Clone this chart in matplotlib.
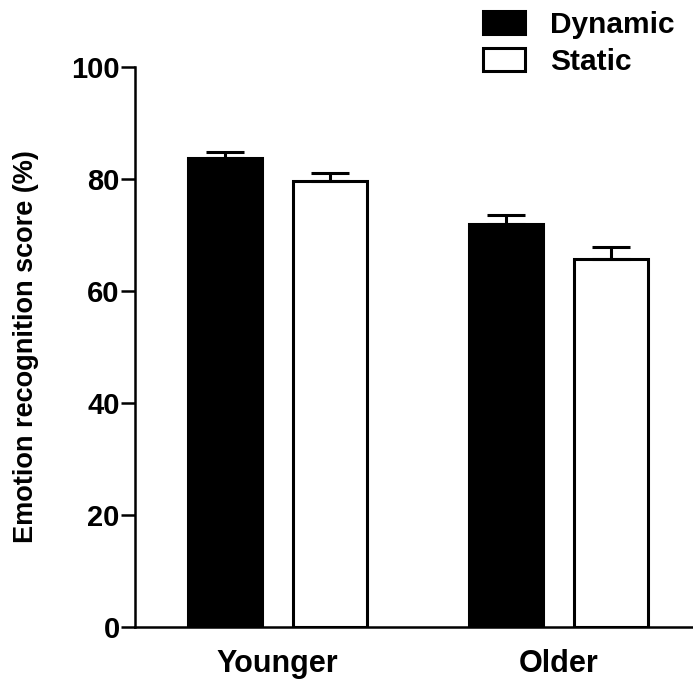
import matplotlib
matplotlib.use('Agg')
from matplotlib import pyplot
import numpy

groups = ['Younger', 'Older']
series = ['Dynamic', 'Static']
dynamic = [83.7, 71.9]
dynamic_err = [1.1, 1.7]
static = [79.7, 65.8]
static_err = [1.4, 2.1]
yticks = [0, 20, 40, 60, 80, 100]

pyplot.rcParams['font.family'] = ['Liberation Sans', 'DejaVu Sans']
pyplot.rcParams['font.weight'] = 'bold'

fig = pyplot.figure(figsize=(6.93, 6.88), dpi=100)
ax = fig.add_axes([135 / 693, 1 - 627 / 688, 1 - 135 / 693, (627 - 67) / 688])

x = numpy.arange(len(groups))
w = 0.263
off = 0.187
lw = 2.2
ax.bar(x - off, dynamic, w, color='black', edgecolor='black', linewidth=lw,
       yerr=[[0] * len(dynamic), dynamic_err], capsize=13.5,
       error_kw=dict(elinewidth=lw, capthick=lw, ecolor='black'),
       label=series[0], zorder=2)
ax.bar(x + off, static, w, color='white', edgecolor='black', linewidth=lw,
       yerr=[[0] * len(static), static_err], capsize=13.5,
       error_kw=dict(elinewidth=lw, capthick=lw, ecolor='black'),
       label=series[1], zorder=2)

ax.set_xlim(-0.507, 1.479)
ax.set_ylim(0, 100)
ax.set_yticks(yticks)
ax.set_xticks(x)
ax.set_xticklabels(groups, fontsize=22, fontweight='bold')
ax.tick_params(axis='x', length=0, pad=16)
ax.tick_params(axis='y', length=10, width=1.8, labelsize=21, pad=1)
for lab in ax.get_yticklabels():
    lab.set_fontweight('bold')
ax.spines['top'].set_visible(False)
ax.spines['right'].set_visible(False)
ax.spines['left'].set_linewidth(1.8)
ax.spines['bottom'].set_linewidth(1.8)
ax.set_ylabel('Emotion recognition score (%)', fontsize=19.5, fontweight='bold', labelpad=23)

leg = fig.legend(loc='upper left', bbox_to_anchor=(483 / 693, 1 - 11 / 688),
                 frameon=False, fontsize=21.5, handlelength=1.4, handleheight=0.8,
                 handletextpad=0.85, labelspacing=0.3, borderpad=0, borderaxespad=0)
for t in leg.get_texts():
    t.set_fontweight('bold')

fig.savefig('out.png', dpi=100)
